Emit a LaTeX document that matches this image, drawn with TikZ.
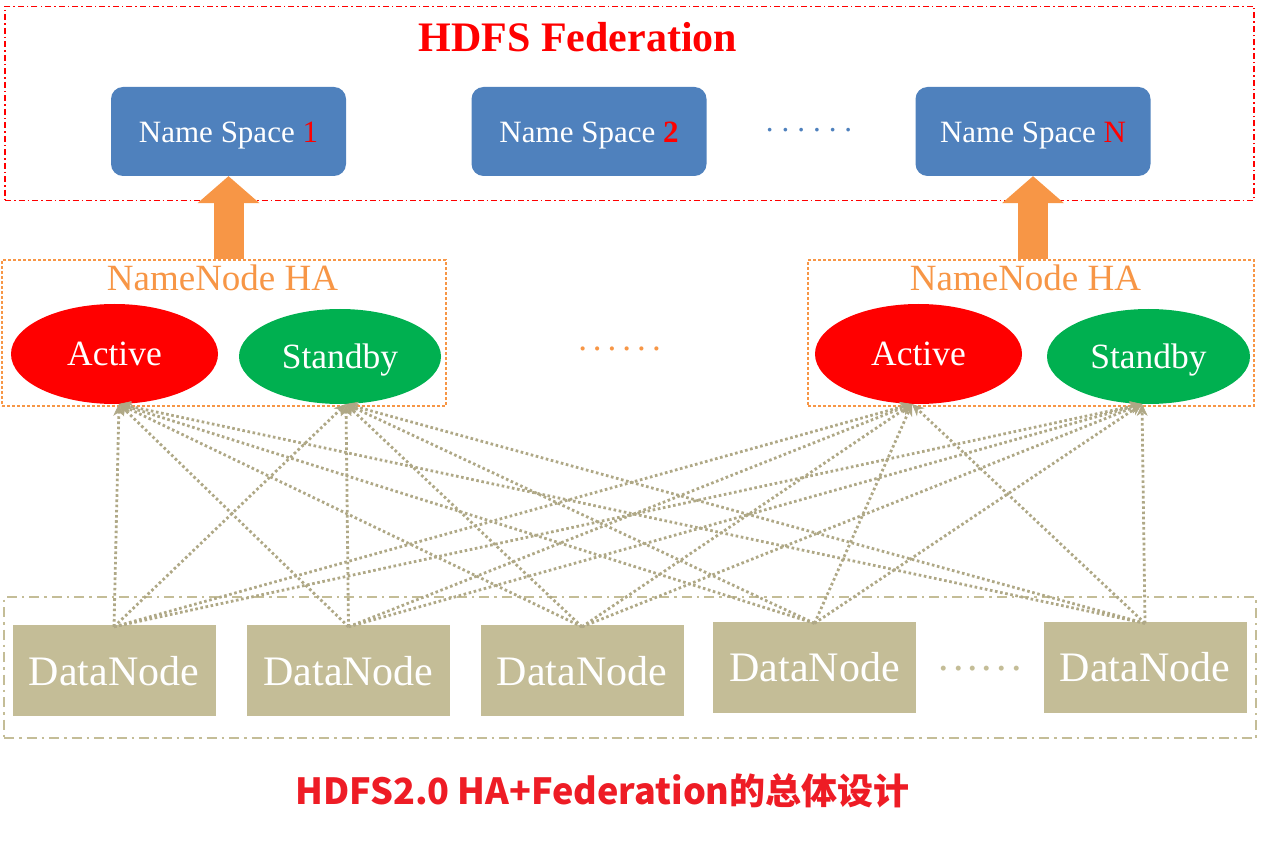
\documentclass[tikz,border=0pt]{standalone}
\usepackage{fontspec}
\setmainfont{Liberation Serif}
\newfontfamily\cjk{Noto Sans CJK SC}
\usetikzlibrary{arrows.meta,shapes.geometric}
\definecolor{nsblue}{HTML}{4F81BD}
\definecolor{haorange}{HTML}{F79646}
\definecolor{actred}{HTML}{FF0000}
\definecolor{sbgreen}{HTML}{00B050}
\definecolor{dntan}{HTML}{C4BD97}
\definecolor{linktan}{HTML}{AFA886}
\definecolor{capred}{HTML}{EE1C25}
\newcommand\sixdots[1]{.\hspace{#1}.\hspace{#1}.\hspace{#1}.\hspace{#1}.\hspace{#1}.}
\begin{document}
\begin{tikzpicture}[x=1pt,y=-1pt,
  nsbox/.style={fill=nsblue, rounded corners=12pt, minimum width=235pt, minimum height=89pt, text=white, font=\fontsize{31}{36}\selectfont, inner sep=0pt, text depth=0pt},
  nnell/.style={ellipse, minimum width=206pt, minimum height=98pt, inner sep=0pt, text=white, font=\fontsize{35.5}{40}\selectfont, text depth=0pt},
  habox/.style={draw=haorange, line width=2.6pt, dash pattern=on 2.6pt off 2.4pt, minimum height=146pt, inner sep=0pt},
  halabel/.style={text=haorange, font=\fontsize{37}{42}\selectfont, anchor=base, inner sep=0pt},
  fedbox/.style={draw=actred, line width=1.1pt, dash pattern=on 6pt off 3pt on 1.5pt off 3pt, inner sep=0pt},
  dnouter/.style={draw=dntan, line width=2pt, dash pattern=on 10pt off 5pt on 2.5pt off 5pt, inner sep=0pt},
  dnbox/.style={fill=dntan, minimum width=203pt, minimum height=91pt, text=white, font=\fontsize{42}{48}\selectfont, inner sep=0pt, text depth=0pt},
  link/.style={draw=linktan, line width=2.8pt, dash pattern=on 2.6pt off 2.6pt, -{Stealth[length=12pt,width=11pt,line width=0.5pt]}},
  bigarrow/.style={draw=haorange, line width=30pt, -{Triangle[length=27pt,width=62pt,line width=0pt]}},
  dotrow/.style={anchor=base, inner sep=0pt},
]
\useasboundingbox (0,0) rectangle (1269,842);

% Federation frame
\node[fedbox, minimum width=1249pt, minimum height=194pt] (fed) at (629.5,103.5) {};
\node[text=actred, font=\bfseries\fontsize{42}{48}\selectfont, anchor=base, inner sep=0pt] (title) at (578,52) {HDFS Federation};

\node[nsbox] (ns1) at (228.5,131.5) {\raisebox{-2pt}{Name Space \textcolor{actred}{1}}};
\node[nsbox] (ns2) at (589,131.5) {\raisebox{-2pt}{Name Space \textcolor{actred}{\bfseries 2}}};
\node[nsbox] (ns3) at (1033,131.5) {\raisebox{-2pt}{Name Space \textcolor{actred}{N}}};
\node[dotrow, text=nsblue, font=\fontsize{31}{36}\selectfont] (nsdots) at (809,132) {\sixdots{8pt}};

% NameNode HA groups
\node[habox, minimum width=444pt] (ha1) at (224,333) {};
\node[habox, minimum width=446pt] (ha2) at (1031,333) {};
\node[halabel] (hal1) at (222.5,291) {NameNode HA};
\node[halabel] (hal2) at (1025.5,291) {NameNode HA};

\node[nnell, fill=actred, minimum width=207pt, minimum height=100pt] (a1) at (114.5,354) {Active};
\node[nnell, fill=sbgreen, minimum width=202pt, minimum height=95pt] (s1) at (340,356.5) {Standby};
\node[nnell, fill=actred, minimum width=207pt, minimum height=100pt] (a2) at (918.5,354) {Active};
\node[nnell, fill=sbgreen, minimum width=203pt, minimum height=95pt] (s2) at (1148.5,356.5) {Standby};
\node[dotrow, text=haorange, font=\fontsize{35}{40}\selectfont] (hadots) at (619.5,350) {\sixdots{6pt}};

% orange arrows
\draw[bigarrow] (ns1.south |- ha1.north) -- (ns1.south);
\draw[bigarrow] (ns3.south |- ha2.north) -- (ns3.south);

% DataNodes
\node[dnouter, minimum width=1252pt, minimum height=141pt] (dnall) at (630,667.5) {};
\node[dnbox] (dn1) at (114,670.5) {DataNode};
\node[dnbox] (dn2) at (348.5,670.5) {DataNode};
\node[dnbox] (dn3) at (582,670.5) {DataNode};
\node[dnbox] (dn4) at (814.5,667) {DataNode};
\node[dnbox] (dn5) at (1145,667) {DataNode};
\node[dotrow, text=dntan, font=\fontsize{42}{48}\selectfont] (dndots) at (980,670) {\sixdots{4pt}};

% connector end points at the NameNodes
\coordinate (a1p) at (119,404);
\coordinate (s1p) at (346,404);
\coordinate (a2p) at (912,404);
\coordinate (s2p) at (1142,404);

\foreach \d in {dn1,dn2,dn3,dn4,dn5}{
  \foreach \n in {a1p,s1p,a2p,s2p}{
    \draw[link] ([yshift=-2pt]\d.north) -- (\n);
  }
}

% caption
\node[text=capred, font=\cjk\bfseries\fontsize{36}{40}\selectfont, anchor=base, inner sep=0pt] (cap) at (602.5,804) {HDFS2.0 HA+Federation的总体设计};
\end{tikzpicture}
\end{document}
